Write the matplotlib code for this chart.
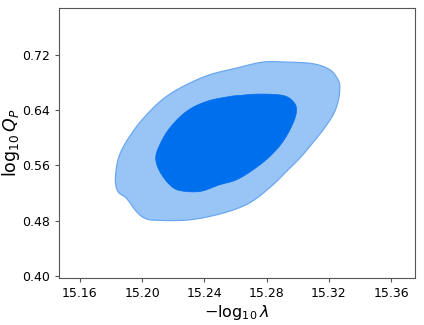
import numpy as np
import matplotlib
matplotlib.use('Agg')
import matplotlib.pyplot as plt

# contour outlines (x = -log10 lambda, y = log10 Q_P)
outer_x = [15.1828, 15.1855, 15.1941, 15.2048, 15.2156, 15.2284, 15.2434, 15.2606,
           15.2777, 15.2927, 15.3098, 15.3206, 15.3259, 15.3270, 15.3259, 15.3227,
           15.3163, 15.3077, 15.3013, 15.2927, 15.2833, 15.2691, 15.2520, 15.2305,
           15.2091, 15.2016, 15.1963, 15.1898, 15.1844]
outer_y = [0.5415, 0.5752, 0.6089, 0.6379, 0.6596, 0.6766, 0.6910, 0.7007,
           0.7094, 0.7094, 0.7070, 0.6983, 0.6838, 0.6718, 0.6524, 0.6331,
           0.6114, 0.5872, 0.5704, 0.5510, 0.5303, 0.5057, 0.4908, 0.4811,
           0.4804, 0.4835, 0.4931, 0.5125, 0.5221]

inner_x = [15.2087, 15.2113, 15.2177, 15.2284, 15.2413, 15.2563, 15.2627, 15.2756,
           15.2905, 15.2970, 15.2992, 15.2970, 15.2905, 15.2820, 15.2713, 15.2606,
           15.2498, 15.2370, 15.2241, 15.2177, 15.2113]
inner_y = [0.5704, 0.5897, 0.6139, 0.6379, 0.6524, 0.6596, 0.6611, 0.6631,
           0.6611, 0.6524, 0.6404, 0.6211, 0.5945, 0.5727, 0.5535, 0.5390,
           0.5318, 0.5221, 0.5235, 0.5318, 0.5510]

x_ticks = [15.16, 15.20, 15.24, 15.28, 15.32, 15.36]
y_ticks = [0.40, 0.48, 0.56, 0.64, 0.72]


def smooth_closed(xs, ys, steps=12):
    # closed catmull-rom through the read points, only to draw a round outline
    p = np.column_stack([xs, ys])
    p0, p1 = np.roll(p, 1, axis=0), p
    p2, p3 = np.roll(p, -1, axis=0), np.roll(p, -2, axis=0)
    out = []
    for t in np.linspace(0, 1, steps, endpoint=False):
        t2, t3 = t * t, t * t * t
        out.append(0.5 * (2 * p1 + (p2 - p0) * t + (2 * p0 - 5 * p1 + 4 * p2 - p3) * t2
                          + (3 * p1 - p0 - 3 * p2 + p3) * t3))
    out = np.stack(out, axis=1).reshape(-1, 2)
    return out[:, 0], out[:, 1]


fig = plt.figure(figsize=(4.24, 3.25), dpi=100)
ax = fig.add_axes([0.139, 0.145, 0.840, 0.831])

ox, oy = smooth_closed(outer_x, outer_y)
ix, iy = smooth_closed(inner_x, inner_y)
ax.fill(ox, oy, facecolor='#99c4f6', edgecolor='#6aa8f0', lw=0.9, zorder=1)
ax.fill(ix, iy, facecolor='#006fed', edgecolor='#006fed', lw=0.5, zorder=2)

ax.set_xlim(15.1465, 15.3754)
ax.set_ylim(0.397, 0.788)
ax.set_xticks(x_ticks)
ax.set_yticks(y_ticks)
ax.set_xticklabels(['%.2f' % v for v in x_ticks])
ax.set_yticklabels(['%.2f' % v for v in y_ticks])
ax.tick_params(labelsize=9, length=3, width=0.8, colors='#555555', labelcolor='black')

for s in ax.spines.values():
    s.set_color('#555555')
    s.set_linewidth(0.8)

ax.set_xlabel(r'$-\log_{10}\lambda$', fontsize=11.5, labelpad=2)
ax.set_ylabel(r'$\log_{10}Q_P$', fontsize=12.5)
ax.yaxis.set_label_coords(-0.105, 0.5)

fig.savefig('out.png', dpi=100)
